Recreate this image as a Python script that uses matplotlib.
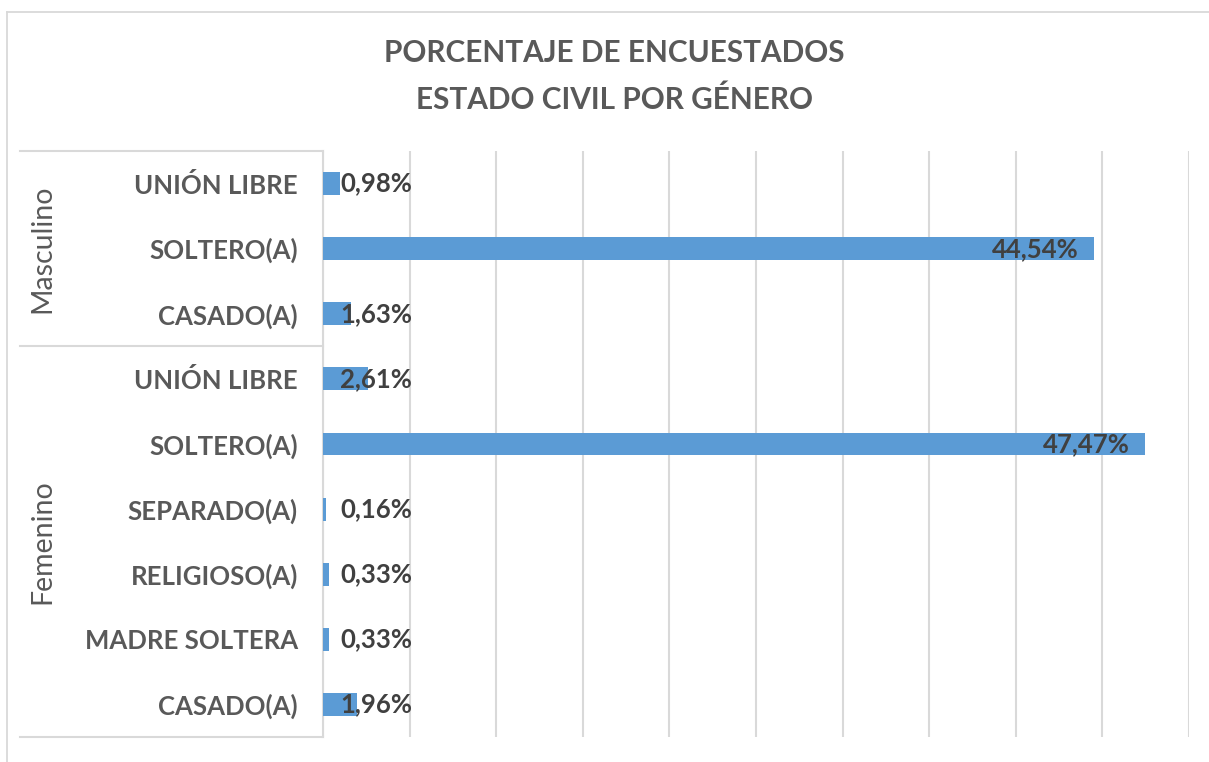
#!/usr/bin/env python3
"""Porcentaje de encuestados: estado civil por genero (Excel-style grouped bar chart)."""
import matplotlib
matplotlib.use("Agg")
import matplotlib.pyplot as plt
from matplotlib.lines import Line2D
import matplotlib.transforms as mtransforms

# rows from top to bottom
GROUPS = ["Masculino", "Femenino"]
GROUP_SIZES = [3, 6]
CATEGORIES = ["UNIÓN LIBRE", "SOLTERO(A)", "CASADO(A)",
              "UNIÓN LIBRE", "SOLTERO(A)", "SEPARADO(A)", "RELIGIOSO(A)",
              "MADRE SOLTERA", "CASADO(A)"]
VALUES = [0.98, 44.54, 1.63, 2.61, 47.47, 0.16, 0.33, 0.33, 1.96]
TITLE_LINES = ["PORCENTAJE DE ENCUESTADOS", "ESTADO CIVIL POR GÉNERO"]

BAR = "#5B9BD5"
GRID = "#D9D9D9"
TEXT = "#595959"
LABEL = "#404040"
FONT = ["Lato", "DejaVu Sans"]

plt.rcParams["font.family"] = FONT

W, H = 1209, 762
fig = plt.figure(figsize=(W / 100, H / 100), dpi=100)


def fx(px):
    return px / W


def fy(py):
    return 1 - py / H


# chart area border (cropped on right / bottom)
fig.add_artist(Line2D([fx(7), fx(7)], [fy(12), 0], color=GRID, lw=1.3))
fig.add_artist(Line2D([fx(7), 1], [fy(12), fy(12)], color=GRID, lw=1.3))

for i, line in enumerate(TITLE_LINES):
    fig.text(fx(614), fy(53 + 47 * i), line, ha="center", va="center",
             fontsize=21.4, fontweight="bold", color=TEXT)

left, right, top, bottom = 323, 1189, 151, 737
ax = fig.add_axes([fx(left), fy(bottom), fx(right - left), (bottom - top) / H])

n = len(VALUES)
ypos = [n - 1 - i for i in range(n)]
ax.barh(ypos, VALUES, height=0.35, color=BAR, zorder=3)

ax.set_xlim(0, 50)
ax.set_ylim(-0.5, n - 0.5)
ax.set_xticks(range(0, 51, 5))
ax.xaxis.grid(True, color=GRID, lw=1.5, zorder=0)
ax.tick_params(axis="x", length=0, labelbottom=False)
ax.set_yticks(ypos)
ax.set_yticklabels(CATEGORIES, fontsize=18.5, fontweight="bold", color=TEXT)
ax.tick_params(axis="y", length=0, pad=18)
for s in ["top", "right", "bottom"]:
    ax.spines[s].set_visible(False)
ax.spines["left"].set_color(GRID)
ax.spines["left"].set_linewidth(1.5)

# data labels: inside end, kept clear of the axis for tiny bars
for y, v in zip(ypos, VALUES):
    ax.text(max(v - 0.9, 5.15), y, f"{v:.2f}".replace(".", ",") + "%",
            ha="right", va="center", fontsize=18.5, fontweight="bold",
            color=LABEL, zorder=4)

# multi-level category table
blend = mtransforms.blended_transform_factory(ax.transAxes, ax.transData)
x0 = (20 - left) / (right - left)
xg = (42 - left) / (right - left)
edges = [n - 0.5]
for size in GROUP_SIZES:
    edges.append(edges[-1] - size)
for e in edges:
    ax.add_line(Line2D([x0, 0], [e, e], transform=blend, color=GRID,
                       lw=1.5, clip_on=False))
for g, a, b in zip(GROUPS, edges[:-1], edges[1:]):
    ax.text(xg, (a + b) / 2, g, transform=blend, rotation=90, ha="center",
            va="center", fontsize=20.5, color=TEXT)

fig.savefig("out.png", dpi=100)
